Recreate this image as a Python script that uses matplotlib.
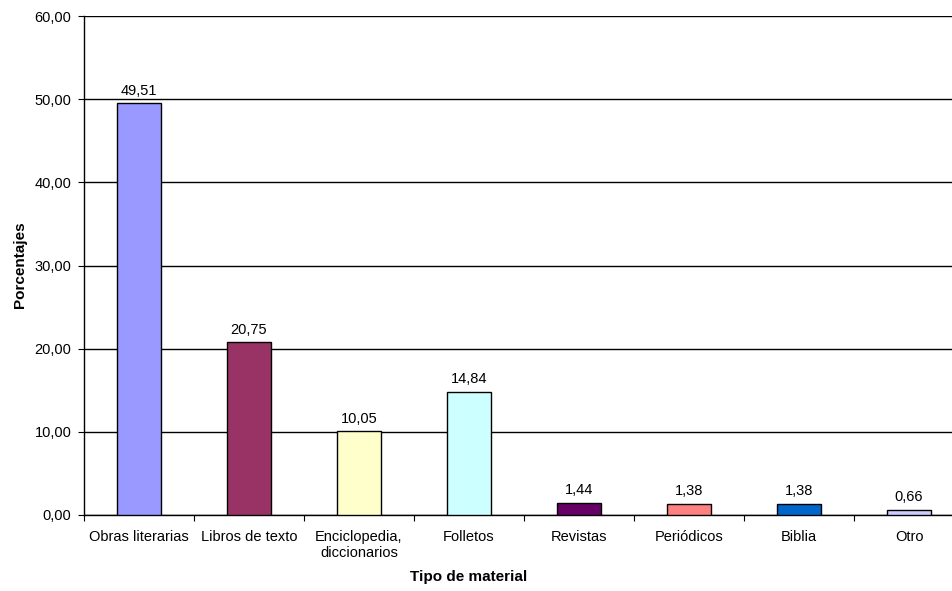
import numpy as np
import matplotlib.pyplot as plt

plt.rcParams['font.family'] = ['Liberation Sans', 'DejaVu Sans']

categorias = ['Obras literarias', 'Libros de texto', 'Enciclopedia,\ndiccionarios',
              'Folletos', 'Revistas', 'Periódicos', 'Biblia', 'Otro']
porcentajes = [49.51, 20.75, 10.05, 14.84, 1.44, 1.38, 1.38, 0.66]
colores = ['#9999FF', '#993366', '#FFFFCC', '#CCFFFF', '#660066', '#FF8080', '#0066CC', '#CCCCFF']
y_ticks = [0, 10, 20, 30, 40, 50, 60]

FS = 10.5


def coma(v):
    return f"{v:.2f}".replace('.', ',')


fig = plt.figure(figsize=(9.52, 5.91), dpi=100)
# axes run past the right edge of the figure, as in the cropped original
ax = fig.add_axes([84 / 952, 1 - 515 / 591, 880 / 952, 499 / 591])

x = np.arange(len(categorias))
ax.bar(x, porcentajes, width=0.4, color=colores, edgecolor='black', linewidth=1, zorder=3)

for xi, v in zip(x, porcentajes):
    ax.annotate(coma(v), (xi, v), xytext=(0, 4), textcoords='offset points',
                ha='center', va='bottom', fontsize=FS)

ax.set_xlim(-0.5, len(categorias) - 0.5)
ax.set_ylim(0, 60)
ax.set_yticks(y_ticks)
ax.set_yticklabels([coma(t) for t in y_ticks], fontsize=FS)
ax.yaxis.grid(True, color='black', linewidth=1, zorder=0)

ax.set_xticks(np.arange(len(categorias) + 1) - 0.5)
ax.set_xticklabels([])
ax.set_xticks(x, minor=True)
ax.set_xticklabels(categorias, minor=True, fontsize=FS)
ax.tick_params(axis='x', which='minor', length=0, pad=11)
ax.tick_params(axis='x', which='major', length=4, direction='out')
ax.tick_params(axis='y', length=4, direction='out', pad=5)

for s in ['top', 'right']:
    ax.spines[s].set_visible(False)
ax.spines['left'].set_linewidth(1)
ax.spines['bottom'].set_linewidth(1)

fig.text(20 / 952, 1 - 265 / 591, 'Porcentajes', rotation=90, fontsize=11,
         fontweight='bold', ha='center', va='center')
fig.text(469 / 952, 1 - 577 / 591, 'Tipo de material', fontsize=11,
         fontweight='bold', ha='center', va='center')

fig.savefig('out.png', dpi=100)
